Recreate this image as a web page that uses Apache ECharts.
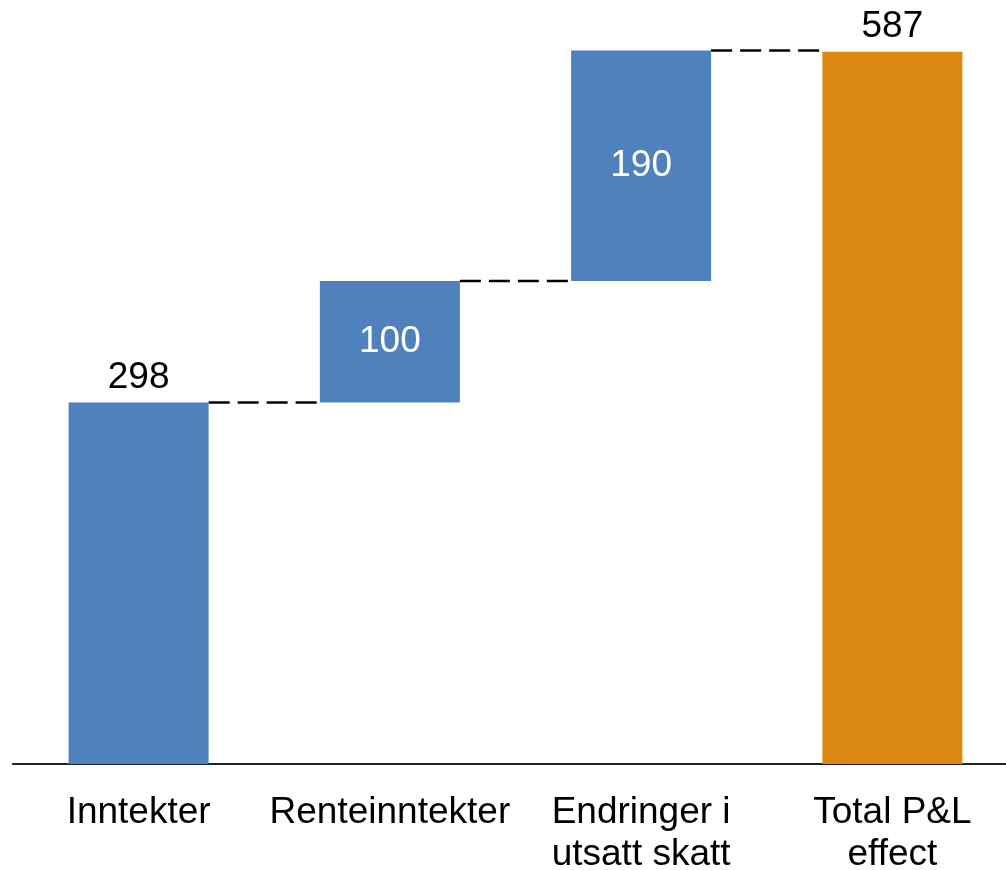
<!DOCTYPE html>
<html>
<head>
<meta charset="utf-8">
<title>Total P&amp;L effect</title>
<script src="https://cdn.jsdelivr.net/npm/echarts@6/dist/echarts.min.js"></script>
<style>
  html, body { margin: 0; padding: 0; background: #fff; overflow: hidden; }
  #chart { position: absolute; left: 0; top: 0; width: 1020px; height: 870px; }
</style>
</head>
<body>
<div id="chart"></div>
<script>
// Waterfall: three contributions followed by the total
const categories = ['Inntekter', 'Renteinntekter', 'Endringer i\nutsatt skatt', 'Total P&L\neffect'];
const stepValues = [298, 100, 190];
const totalValue = 587;

const BLUE = '#4F81BD';
const ORANGE = '#DB8910';
const BAR_WIDTH = 140;
const FONT = '"Liberation Sans", Arial, sans-serif';

// invisible base that lifts each step to the running sum
const bases = [];
const levels = [];
let running = 0;
stepValues.forEach(v => {
  bases.push(running);
  running += v;
  levels.push(running);
});
bases.push(0);

const visible = stepValues.map((v, i) => ({
  value: v,
  itemStyle: { color: BLUE },
  label: i === 0
    ? { position: 'top', color: '#000' }
    : { position: 'inside', color: '#fff' }
}));
visible.push({ value: totalValue, itemStyle: { color: ORANGE }, label: { position: 'top', color: '#000' } });

// connector lines between neighbouring bars
const connectors = levels.map((lv, i) => [i, lv]);

const chart = echarts.init(document.getElementById('chart'), null, { renderer: 'canvas' });
chart.setOption({
  animation: false,
  backgroundColor: '#fff',
  textStyle: { fontFamily: FONT },
  grid: {
    left: 13, width: 1005, top: 36, height: 728,
    containLabel: false,
    outerBoundsMode: 'none'
  },
  xAxis: {
    type: 'category',
    data: categories,
    axisLine: { show: true, lineStyle: { color: '#222', width: 2 } },
    axisTick: { show: false },
    axisLabel: {
      color: '#000',
      fontSize: 37,
      lineHeight: 42,
      margin: 28,
      interval: 0,
      fontFamily: FONT
    }
  },
  yAxis: {
    type: 'value',
    min: 0,
    max: 600,
    show: false,
    splitLine: { show: false }
  },
  series: [
    {
      type: 'bar',
      stack: 'wf',
      data: bases,
      barWidth: BAR_WIDTH,
      itemStyle: { color: 'transparent' },
      silent: true
    },
    {
      type: 'bar',
      stack: 'wf',
      data: visible,
      barWidth: BAR_WIDTH,
      label: {
        show: true,
        fontSize: 37,
        distance: 6,
        fontFamily: FONT
      }
    },
    {
      type: 'custom',
      data: connectors,
      z: 5,
      renderItem: function (params, api) {
        const i = api.value(0);
        const lv = api.value(1);
        const p0 = api.coord([i, lv]);
        const p1 = api.coord([i + 1, lv]);
        return {
          type: 'line',
          shape: {
            x1: p0[0] + BAR_WIDTH / 2,
            y1: p0[1],
            x2: p1[0] - BAR_WIDTH / 2,
            y2: p1[1]
          },
          style: { stroke: '#000', lineWidth: 2.5, lineDash: [21, 8] }
        };
      }
    }
  ]
});
</script>
</body>
</html>
